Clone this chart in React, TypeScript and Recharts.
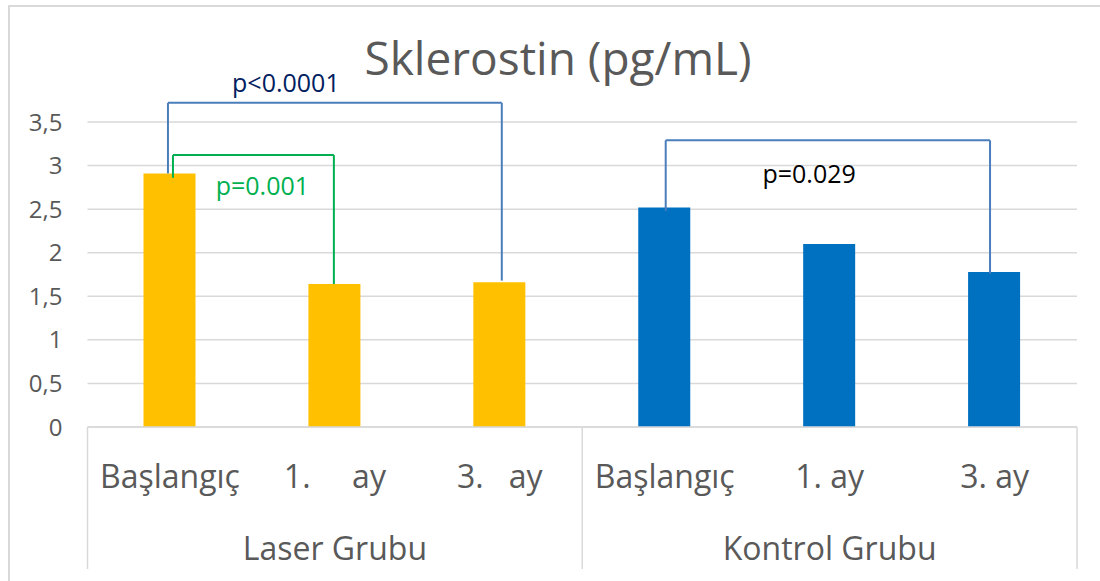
import React from 'react';
import { BarChart, Bar, Cell, XAxis, YAxis, CartesianGrid, ReferenceLine } from 'recharts';

// categories (unique ids, since "Başlangıç" appears in both groups)
const categoryIds = ['L0', 'L1', 'L2', 'K0', 'K1', 'K2'];
const periodLabels = [
  'Başlangıç',
  '1.\u00a0\u00a0\u00a0\u00a0\u00a0ay',
  '3.\u00a0\u00a0\u00a0ay',
  'Başlangıç',
  '1. ay',
  '3. ay',
];
const groupNames = ['Laser Grubu', 'Kontrol Grubu'];
const groupOf = [0, 0, 0, 1, 1, 1];
const sklerostin = [2.91, 1.64, 1.66, 2.52, 2.1, 1.78];
const yTicks = [0, 0.5, 1, 1.5, 2, 2.5, 3, 3.5];

// significance brackets
const bracketFrom = ['L0', 'L0', 'K0'];
const bracketTo = ['L2', 'L1', 'K2'];
const bracketTop = [3.72, 3.12, 3.29];
const bracketFromEnd = [2.91, 2.86, 2.48];
const bracketToEnd = [1.68, 1.64, 1.76];
const pValues = ['p<0.0001', 'p=0.001', 'p=0.029'];

const W = 1100;
const H = 581;
const MARGIN = { top: 122, right: 23, bottom: 12, left: 0 };
const Y_AXIS_W = 87.5;
const BAND = (W - MARGIN.left - MARGIN.right - Y_AXIS_W) / categoryIds.length;
const FONT = '"Open Sans", "Noto Sans", sans-serif';
const GRID = '#d9d9d9';
const TEXT = '#595959';
const groupColors = ['#ffc000', '#0070c0'];

// small pixel nudges so the brackets sit like in the original
const bracketLook = [
  { stroke: '#4a7ebb', text: '#002060', dxFrom: -2, dxTo: 2, textDx: -49, textDy: -11 },
  { stroke: '#00b050', text: '#00b050', dxFrom: 3, dxTo: -1, textDx: 10, textDy: 40 },
  { stroke: '#4a7ebb', text: '#000000', dxFrom: 1, dxTo: -4.5, textDx: -20.5, textDy: 43 },
];

const rows = categoryIds.map((id, i) => ({
  id,
  label: periodLabels[i],
  group: groupOf[i],
  value: sklerostin[i],
}));

const shiftedLine =
  (dx1: number, dx2: number, stroke: string, label?: { text: string; fill: string; dx: number; dy: number }) =>
  (p: any) => (
    <g>
      <line x1={p.x1 + dx1} y1={p.y1} x2={p.x2 + dx2} y2={p.y2} stroke={stroke} strokeWidth={2} />
      {label && (
        <text
          x={(p.x1 + p.x2) / 2 + label.dx}
          y={p.y1 + label.dy}
          textAnchor="middle"
          fontSize={25}
          fontFamily={FONT}
          fill={label.fill}
        >
          {label.text}
        </text>
      )}
    </g>
  );

const CategoryTick = (props: any) => {
  const { x, y, payload } = props;
  const i = payload.index;
  const half = BAND / 2;
  const startsGroup = i === 0 || groupOf[i] !== groupOf[i - 1];
  const isLast = i === categoryIds.length - 1;
  const isMiddle = i % 3 === 1;
  return (
    <g>
      <text x={x} y={y + 61} textAnchor="middle" fontSize={32} fontFamily={FONT} fill={TEXT}>
        {periodLabels[i]}
      </text>
      {isMiddle && (
        <text x={x} y={y + 133} textAnchor="middle" fontSize={32} fontFamily={FONT} fill={TEXT}>
          {groupNames[groupOf[i]]}
        </text>
      )}
      {startsGroup && <line x1={x - half} y1={y} x2={x - half} y2={y + 142} stroke={GRID} strokeWidth={1.5} />}
      {isLast && <line x1={x + half} y1={y} x2={x + half} y2={y + 142} stroke={GRID} strokeWidth={1.5} />}
    </g>
  );
};

const App = () => (
  <div style={{ position: 'absolute', left: 0, top: 0, width: W, height: H, overflow: 'hidden', background: '#fff' }}>
    <div
      style={{
        position: 'absolute',
        left: 8,
        top: 5,
        width: W + 20,
        height: H + 20,
        borderLeft: `2px solid ${GRID}`,
        borderTop: `2px solid ${GRID}`,
      }}
    />
    <svg width={W} height={100} style={{ position: 'absolute', left: 0, top: 0 }}>
      <text x={558} y={75} textAnchor="middle" fontSize={46} fontFamily={FONT} fill={TEXT}>
        Sklerostin (pg/mL)
      </text>
    </svg>
    <div style={{ position: 'absolute', left: 0, top: 0 }}>
      <BarChart width={W} height={H} data={rows} margin={MARGIN} barSize={52}>
        <CartesianGrid vertical={false} stroke={GRID} strokeWidth={1.5} />
        <XAxis
          dataKey="id"
          height={142}
          interval={0}
          tickLine={false}
          tickSize={0}
          tickMargin={0}
          axisLine={{ stroke: GRID, strokeWidth: 1.5 }}
          tick={<CategoryTick />}
        />
        <YAxis
          width={Y_AXIS_W}
          domain={[0, 3.5]}
          ticks={yTicks}
          axisLine={false}
          tickLine={false}
          tickSize={0}
          tickMargin={25}
          tickFormatter={(v: number) => String(v).replace('.', ',')}
          tick={{ fill: TEXT, fontSize: 24, fontFamily: FONT }}
        />
        <Bar dataKey="value" isAnimationActive={false}>
          {rows.map((r) => (
            <Cell key={r.id} fill={groupColors[r.group]} />
          ))}
        </Bar>
        {pValues.map((p, k) => {
          const look = bracketLook[k];
          return (
            <React.Fragment key={p}>
              <ReferenceLine
                ifOverflow="visible"
                segment={[
                  { x: bracketFrom[k], y: bracketFromEnd[k] },
                  { x: bracketFrom[k], y: bracketTop[k] },
                ]}
                shape={shiftedLine(look.dxFrom, look.dxFrom, look.stroke)}
              />
              <ReferenceLine
                ifOverflow="visible"
                segment={[
                  { x: bracketTo[k], y: bracketToEnd[k] },
                  { x: bracketTo[k], y: bracketTop[k] },
                ]}
                shape={shiftedLine(look.dxTo, look.dxTo, look.stroke)}
              />
              <ReferenceLine
                ifOverflow="visible"
                segment={[
                  { x: bracketFrom[k], y: bracketTop[k] },
                  { x: bracketTo[k], y: bracketTop[k] },
                ]}
                shape={shiftedLine(look.dxFrom, look.dxTo, look.stroke, {
                  text: p,
                  fill: look.text,
                  dx: look.textDx,
                  dy: look.textDy,
                })}
              />
            </React.Fragment>
          );
        })}
      </BarChart>
    </div>
  </div>
);

export default App;
